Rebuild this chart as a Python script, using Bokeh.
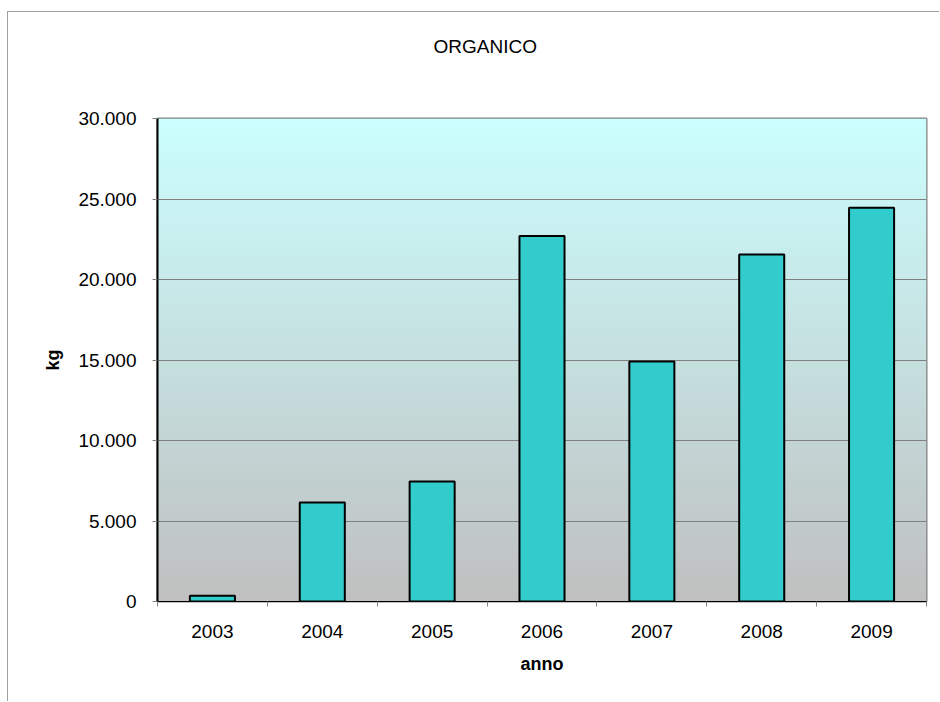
import numpy as np
from bokeh.plotting import figure
from bokeh.models import Range1d, FixedTicker, LinearAxis, Title
from bokeh.embed import file_html
from bokeh.resources import INLINE

years = ["2003", "2004", "2005", "2006", "2007", "2008", "2009"]
kg = [350, 6150, 7450, 22700, 14900, 21550, 24450]
y_ticks = [0, 5000, 10000, 15000, 20000, 25000, 30000]
y_tick_labels = ["0", "5.000", "10.000", "15.000", "20.000", "25.000", "30.000"]
title_text = "ORGANICO"

FONT = "Liberation Sans"
W, H = 932, 690
Y_MAX = 30000

p = figure(width=W, height=H, output_backend="svg", toolbar_location=None,
           x_range=Range1d(0, len(years)), y_range=Range1d(0, Y_MAX),
           min_border_left=149, min_border_right=14, min_border_top=106,
           min_border_bottom=101)
p.background_fill_color = "white"
p.border_fill_color = "white"
p.styles = {"margin-left": "7px", "margin-top": "11px",
            "border-left": "1px solid #A0A0A0", "border-top": "1px solid #A0A0A0"}

# gradient plot-area background (light cyan top -> silver bottom)
n = 256
t = np.linspace(0, 1, n)
top_c = np.array([204, 255, 255])
bot_c = np.array([192, 192, 192])
cols = (bot_c[None, :] * (1 - t[:, None]) + top_c[None, :] * t[:, None]).astype(np.uint32)
img = np.empty((n, 1), dtype=np.uint32)
view = img.view(dtype=np.uint8).reshape((n, 1, 4))
view[:, 0, 0] = cols[:, 0]
view[:, 0, 1] = cols[:, 1]
view[:, 0, 2] = cols[:, 2]
view[:, 0, 3] = 255
p.image_rgba(image=[img], x=0, y=0, dw=len(years), dh=Y_MAX, level="image")

xs = [i + 0.5 for i in range(len(years))]
p.vbar(x=xs, top=kg, width=0.41, fill_color="#33CCCC",
       line_color="black", line_width=2)

p.xgrid.visible = False
p.ygrid.ticker = FixedTicker(ticks=y_ticks)
p.ygrid.grid_line_color = "#808080"
p.ygrid.grid_line_width = 1

p.outline_line_color = "#808080"
p.outline_line_width = 2

# x axis
p.xaxis.ticker = FixedTicker(ticks=xs, minor_ticks=list(range(len(years) + 1)))
p.xaxis.major_label_overrides = {x: y for x, y in zip(xs, years)}
p.xaxis.major_tick_line_color = None
p.xaxis.major_tick_out = 5
p.xaxis.major_tick_in = 0
p.xaxis.minor_tick_out = 5
p.xaxis.minor_tick_in = 0
p.xaxis.minor_tick_line_color = "#808080"
p.xaxis.axis_line_color = "black"
p.xaxis.axis_line_width = 1
p.xaxis.major_label_standoff = 18
p.xaxis.axis_label = "anno"
p.xaxis.axis_label_standoff = 13

# y axis
p.yaxis.ticker = FixedTicker(ticks=y_ticks, minor_ticks=[])
p.yaxis.major_label_overrides = {v: s for v, s in zip(y_ticks, y_tick_labels)}
p.yaxis.major_tick_out = 5
p.yaxis.major_tick_in = 0
p.yaxis.major_tick_line_color = "#808080"
p.yaxis.axis_line_color = "black"
p.yaxis.axis_line_width = 2
p.yaxis.major_label_standoff = 16
p.yaxis.axis_label = "kg"
p.yaxis.axis_label_standoff = 12

for ax in (p.xaxis[0], p.yaxis[0]):
    ax.major_label_text_font = FONT
    ax.major_label_text_font_size = "19px"
    ax.major_label_text_color = "black"
    ax.axis_label_text_font = FONT
    ax.axis_label_text_font_size = "18px"
    ax.axis_label_text_font_style = "bold"
    ax.axis_label_text_color = "black"

# bare spacer axis above the plot area: lifts the title away from the frame
spacer = LinearAxis(ticker=FixedTicker(ticks=[], minor_ticks=[]),
                    major_tick_out=0, major_tick_in=0, minor_tick_out=0,
                    minor_tick_in=0, major_label_standoff=0,
                    axis_line_color=None, major_tick_line_color=None,
                    minor_tick_line_color=None,
                    axis_label=" ", axis_label_standoff=33,
                    axis_label_text_font=FONT,
                    axis_label_text_font_size="19px",
                    axis_label_text_font_style="normal")
p.add_layout(spacer, "above")

# chart title, left-offset so it sits where the original one does
p.title = Title(text=title_text, align="left", offset=276,
                text_font=FONT, text_font_size="19px", text_font_style="normal",
                text_color="black")

open("out.html", "w").write(file_html(p, INLINE))
